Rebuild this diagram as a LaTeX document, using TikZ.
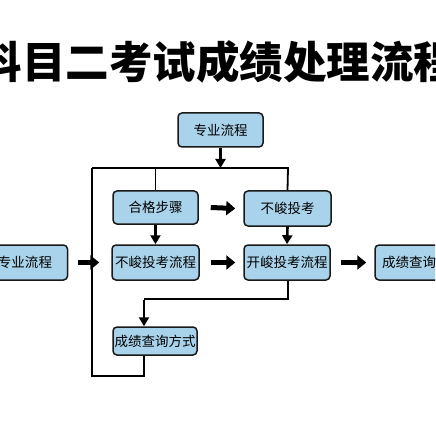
\documentclass[tikz,border=0pt]{standalone}
\usepackage{fontspec}
\newfontfamily\cjk{Noto Sans CJK SC}
\usetikzlibrary{arrows.meta}
\definecolor{boxblue}{HTML}{A9D3EA}
\tikzset{
  box/.style={draw=black!90, line width=1.5pt, fill=boxblue, rounded corners=4pt,
    inner sep=0pt, minimum height=34pt, minimum width=86pt,
    font=\cjk\fontsize{13.5}{15}\selectfont},
  conn/.style={line width=1.8pt},
  varrow/.style={line width=2.6pt, -{Triangle[width=10pt,length=9pt]}},
  harrow/.style={line width=5pt, -{Triangle[width=14pt,length=9pt]}},
  titletext/.style={font=\cjk\bfseries\fontsize{43.5}{46}\selectfont, inner sep=0pt}
}
\begin{document}
\begin{tikzpicture}[x=1pt,y=-1pt]
\useasboundingbox (0,0) rectangle (435,435);
\clip (0,0) rectangle (435,435);
\fill[white] (0,0) rectangle (435,435);
% title
\node[titletext] (title) at (218,62) {科目二考试成绩处理流程};
% boxes
\node[box, minimum width=85pt] (top) at (220.5,130) {专业流程};
\node[box, minimum width=85pt, minimum height=35pt] (left) at (25,262.5) {专业流程};
\node[box, minimum width=85pt, minimum height=33pt] (hg) at (155.5,207.5) {合格步骤};
\node[box, minimum width=87pt, minimum height=35pt] (bj) at (287.5,208.5) {不峻投考};
\node[box, minimum width=87pt, minimum height=35pt] (bjl) at (155.5,262.5) {不峻投考流程};
\node[box, minimum width=86pt, minimum height=35pt] (kj) at (287,262.5) {开峻投考流程};
\node[box, minimum width=95pt, minimum height=35pt] (cxr) at (422.5,262.5) {成绩查询方式};
\node[box, minimum width=84pt, minimum height=28pt] (cxl) at (155,341) {成绩查询方式};
% coordinates
\coordinate (tl) at (92,168);
\coordinate (tr) at (288,168);
\coordinate (bl) at (92,376);
\coordinate (br) at (144,376);
\coordinate (kr) at (288,299);
\coordinate (kl) at (144,299);
% connectors
\draw[conn] (tl) -- (tr) -- (bj.north);
\draw[conn] (hg.north |- tl) -- (hg.north);
\draw[conn] (tl) -- (bl) -- (br) -- (cxl.south -| br);
\draw[varrow] (top.south) -- (top.south |- tl);
\draw[varrow] (hg.south) -- (bjl.north);
\draw[varrow] (bj.south) -- (kj.north);
\draw[conn] (kj.south -| kr) -- (kr) -- (kl);
\draw[varrow] ([yshift=-0.9pt]kl) -- (cxl.north -| kl);
\draw[harrow] ([xshift=12pt]hg.east) -- ([xshift=-8pt]bj.west);
\draw[harrow] ([xshift=10pt]left.east) -- ([xshift=-12pt]bjl.west);
\draw[harrow] ([xshift=11pt]bjl.east) -- ([xshift=-8pt]kj.west);
\draw[harrow] ([xshift=10pt]kj.east) -- ([xshift=-8pt]cxr.west);
\end{tikzpicture}
\end{document}
